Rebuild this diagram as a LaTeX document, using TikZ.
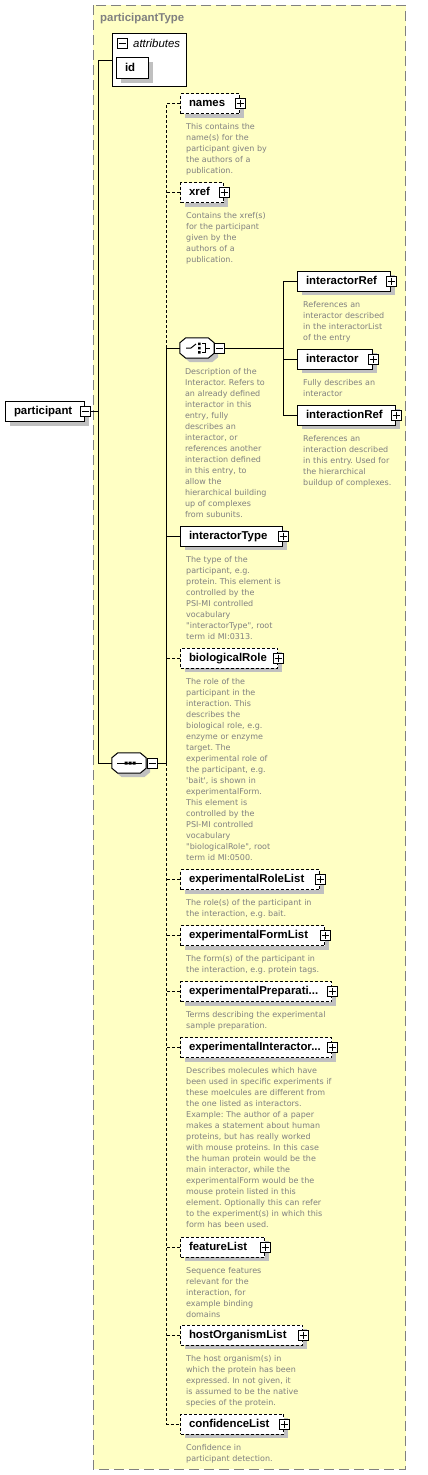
\documentclass[tikz,border=0pt]{standalone}
\usepackage{fontspec}
\setmainfont{Liberation Sans}
\newfontfamily\descfam{DejaVu Sans}
\usetikzlibrary{positioning,shadows}
\frenchspacing
\definecolor{typefill}{RGB}{255,255,196}
\definecolor{typeline}{RGB}{128,128,128}
\definecolor{desctext}{RGB}{128,128,128}
\definecolor{shade}{RGB}{192,192,192}
\tikzset{
  boxshadow/.style={drop shadow={shadow xshift=4pt, shadow yshift=-4pt, fill=shade, opacity=1}},
  elem/.style={draw, fill=white, line width=1pt, anchor=west, minimum height=20pt,
    inner xsep=8.5pt, inner ysep=0pt, align=left, text height=8.5pt, text depth=2.5pt,
    font=\bfseries\fontsize{11.4}{13}\selectfont, boxshadow},
  optelem/.style={elem, dash pattern=on 3pt off 2pt},
  desc/.style={anchor=north west, inner sep=0pt, text width=160pt, align=left, text=desctext,
    font=\descfam\fontsize{8}{11}\selectfont, execute at begin node={\rule{0pt}{8pt}}},
  plusbox/.style={draw, fill=white, line width=1pt, minimum size=10pt, inner sep=0pt,
    path picture={\draw[line width=1pt] ([xshift=1.5pt]path picture bounding box.west) -- ([xshift=-1.5pt]path picture bounding box.east)
      ([yshift=-1.5pt]path picture bounding box.north) -- ([yshift=1.5pt]path picture bounding box.south);}},
  minusbox/.style={draw, fill=white, line width=1pt, minimum size=10pt, inner sep=0pt,
    path picture={\draw[line width=1pt] ([xshift=1.5pt]path picture bounding box.west) -- ([xshift=-1.5pt]path picture bounding box.east);}},
  compositor/.style={minimum width=34pt, minimum height=20pt, inner sep=0pt},
  conn/.style={line width=1pt},
  optconn/.style={conn, dash pattern=on 3pt off 2pt}
}
% octagon outline of a sequence/choice compositor
\newcommand\compshape[1]{%
  \draw[line width=1pt, fill=white, boxshadow] ([xshift=6pt]#1.north west) -- ([xshift=-6pt]#1.north east)
    -- ([yshift=-5pt]#1.north east) -- ([yshift=5pt]#1.south east) -- ([xshift=-6pt]#1.south east)
    -- ([xshift=6pt]#1.south west) -- ([yshift=5pt]#1.south west) -- ([yshift=-5pt]#1.north west) -- cycle;}
\begin{document}
\begin{tikzpicture}[x=1pt,y=-1pt]
  \useasboundingbox (0,0) rectangle (428,1475);
  \draw[typeline, line width=1pt, dash pattern=on 10pt off 5pt, fill=typefill] (93,5) rectangle (405.5,1469);
  \node[anchor=west, inner sep=0pt, text=typeline, font=\bfseries\fontsize{11.4}{13}\selectfont] (typename) at (100,19) {participantType};

  \node[draw, fill=white, line width=1pt, anchor=north west, minimum width=74pt, minimum height=53pt, inner sep=0pt] (attrs) at (112,33) {};
  \node[minusbox] (attrs-m) at (122.5,43.5) {};
  \node[anchor=west, inner sep=0pt, font=\itshape\fontsize{11.4}{13}\selectfont] (attrs-l) at (133,43.5) {attributes};
  \node[elem, anchor=north west, text width=15pt, minimum height=21pt] (id) at (116,57) {id};

  \node[elem, text width=62pt] (participant) at (5,411.5) {participant};
  \node[minusbox] (participant-m) at (participant.east) {};
  \coordinate (trunk) at (98.7,411.5);

  \node[compositor] (seq) at (129,763) {};
  \compshape{seq}
  \begin{scope}[shift={(seq.center)}]
    \draw[line width=1pt] (-12,0) -- (13,0);
    \fill (-4.5,-1.5) rectangle (-1.5,1.5) (-0.5,-1.5) rectangle (2.5,1.5) (3.5,-1.5) rectangle (6.5,1.5);
  \end{scope}
  \node[minusbox, anchor=west] (seq-m) at ([xshift=1pt]seq.east) {};
  \coordinate (bar) at (166.7,763);

  \node[optelem, text width=42pt] (names) at (180,103.5) {names};
  \node[optelem, text width=26pt] (xref) at (180,192.5) {xref};
  \node[compositor] (choice) at (197,348) {};
  \compshape{choice}
  \begin{scope}[shift={(choice.center)}]
    \draw[line width=1pt] (-11,0) -- (-6,0) -- (-1,-4);
    \fill (1,-5.5) rectangle (3.5,-3) (1,-1.25) rectangle (3.5,1.25) (1,3) rectangle (3.5,5.5);
    \draw[line width=1pt] (5,-4.5) -- (8,-4.5) -- (8,4.5) -- (5,4.5) (8,0) -- (13,0);
  \end{scope}
  \node[minusbox, anchor=west] (choice-m) at (choice.east) {};
  \coordinate (chbar) at (283,348);
  \node[elem, text width=76pt] (iref) at (297,281) {interactorRef};
  \node[elem, text width=58pt] (ictr) at (297,359) {interactor};
  \node[elem, text width=81pt] (icnref) at (297,415) {interactionRef};
  \node[elem, text width=85pt] (itype) at (180,536) {interactorType};
  \node[optelem, text width=80pt] (brole) at (180,658) {biologicalRole};
  \node[optelem, text width=122pt] (erl) at (180,879.5) {experimentalRoleList};
  \node[optelem, text width=127pt] (efl) at (180,935.5) {experimentalFormList};
  \node[optelem, text width=134pt] (eprep) at (180,991.5) {experimentalPreparati...};
  \node[optelem, text width=134pt] (eint) at (180,1047.5) {experimentalInteractor...};
  \node[optelem, text width=67pt] (feat) at (180,1247) {featureList};
  \node[optelem, text width=105pt] (host) at (180,1335) {hostOrganismList};
  \node[optelem, text width=86pt] (conf) at (180,1424) {confidenceList};
  \foreach \n in {names,xref,iref,ictr,icnref,itype,brole,erl,efl,eprep,eint,feat,host,conf}
    \node[plusbox] (\n-p) at (\n.east) {};

  \node[desc, below right=7.5pt and 6pt of names.south west] (names-d) {This contains the\\name(s) for the\\participant given by\\the authors of a\\publication.};
  \node[desc, below right=7.5pt and 6pt of xref.south west] (xref-d) {Contains the xref(s)\\for the participant\\given by the\\authors of a\\publication.};
  \node[desc, below right=8pt and 5pt of choice.south west] (choice-d) {Description of the\\Interactor. Refers to\\an already defined\\interactor in this\\entry, fully\\describes an\\interactor, or\\references another\\interaction defined\\in this entry, to\\allow the\\hierarchical building\\up of complexes\\from subunits.};
  \node[desc, below right=8pt and 6pt of iref.south west] (iref-d) {References an\\interactor described\\in the interactorList\\of the entry};
  \node[desc, below right=8pt and 6pt of ictr.south west] (ictr-d) {Fully describes an\\interactor};
  \node[desc, below right=8pt and 6pt of icnref.south west] (icnref-d) {References an\\interaction described\\in this entry. Used for\\the hierarchical\\buildup of complexes.};
  \node[desc, below right=7.5pt and 6pt of itype.south west] (itype-d) {The type of the\\participant, e.g.\\protein. This element is\\controlled by the\\PSI-MI controlled\\vocabulary\\"interactorType", root\\term id MI:0313.};
  \node[desc, below right=7.5pt and 6pt of brole.south west] (brole-d) {The role of the\\participant in the\\interaction. This\\describes the\\biological role, e.g.\\enzyme or enzyme\\target. The\\experimental role of\\the participant, e.g.\\\textquotesingle bait\textquotesingle, is shown in\\experimentalForm.\\This element is\\controlled by the\\PSI-MI controlled\\vocabulary\\"biologicalRole", root\\term id MI:0500.};
  \node[desc, below right=7.5pt and 6pt of erl.south west] (erl-d) {The role(s) of the participant in\\the interaction, e.g. bait.};
  \node[desc, below right=7.5pt and 6pt of efl.south west] (efl-d) {The form(s) of the participant in\\the interaction, e.g. protein tags.};
  \node[desc, below right=7.5pt and 6pt of eprep.south west] (eprep-d) {Terms describing the experimental\\sample preparation.};
  \node[desc, below right=7.5pt and 6pt of eint.south west] (eint-d) {Describes molecules which have\\been used in specific experiments if\\these moelcules are different from\\the one listed as interactors.\\Example: The author of a paper\\makes a statement about human\\proteins, but has really worked\\with mouse proteins. In this case\\the human protein would be the\\main interactor, while the\\experimentalForm would be the\\mouse protein listed in this\\element. Optionally this can refer\\to the experiment(s) in which this\\form has been used.};
  \node[desc, below right=7.5pt and 6pt of feat.south west] (feat-d) {Sequence features\\relevant for the\\interaction, for\\example binding\\domains};
  \node[desc, below right=7.5pt and 6pt of host.south west] (host-d) {The host organism(s) in\\which the protein has been\\expressed. In not given, it\\is assumed to be the native\\species of the protein.};
  \node[desc, below right=7.5pt and 6pt of conf.south west] (conf-d) {Confidence in\\participant detection.};

  \draw[conn] (participant-m.east) -- (trunk);
  \draw[conn] (attrs.west) -| (trunk) |- (seq.west);
  \draw[conn] (seq-m.east) -- (bar);
  \draw[optconn] (names.west) -- (bar |- names.west) -- (bar |- choice.west);
  \draw[optconn] (xref.west) -- (bar |- xref.west);
  \draw[conn] (choice.west) -- (bar |- choice.west) -- (bar);
  \draw[conn] (itype.west) -- (bar |- itype.west);
  \draw[optconn] (bar) -- (bar |- conf.west) -- (conf.west);
  \foreach \n in {brole,erl,efl,eprep,eint,feat,host}
    \draw[optconn] (\n.west) -- (bar |- \n.west);
  \draw[conn] (choice-m.east) -- (chbar);
  \draw[conn] (iref.west) -| (chbar);
  \draw[conn] (icnref.west) -| (chbar);
  \draw[conn] (ictr.west) -- (chbar |- ictr.west);
\end{tikzpicture}
\end{document}
